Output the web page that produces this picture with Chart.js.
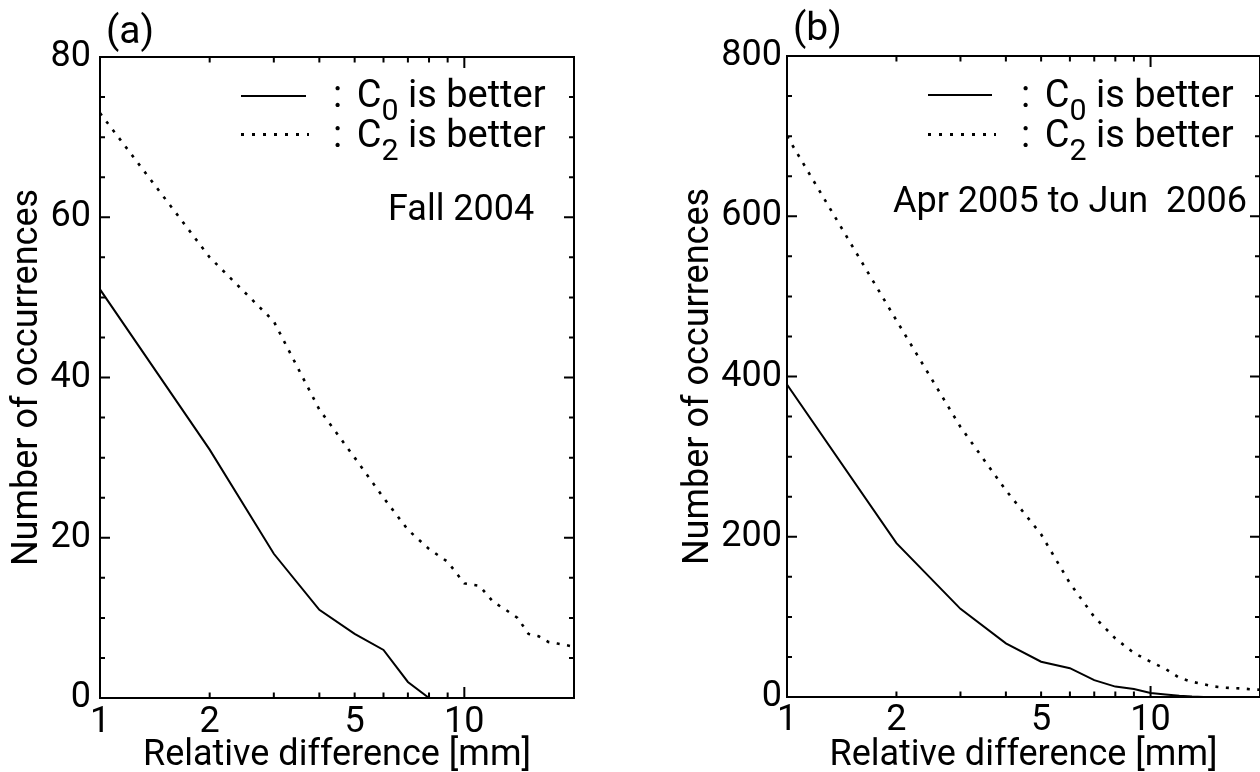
<!DOCTYPE html>
<html lang="en">
<head>
  <meta charset="UTF-8">
  <title>Number of occurrences vs relative difference</title>
  <script src="https://cdn.jsdelivr.net/npm/chart.js"></script>
  <style>
    body {
      margin: 0;
      width: 1260px;
      height: 772px;
      overflow: hidden;
      position: relative;
      background: #ffffff;
      color: #000000;
      font-family: Roboto, sans-serif;
    }
    .panel { position: absolute; top: 0; }
    .txt {
      position: absolute;
      font-size: 36px;
      line-height: 36px;
      white-space: pre;
    }
    .leg { font-size: 38px; }
    .leg .c { margin-left: 5px; }
    .txt sub { font-size: 0.8em; vertical-align: -0.42em; line-height: 0; }
    .big { font-size: 39px; }
    .solid { position: absolute; height: 2px; background: #000; }
    .dotted {
      position: absolute;
      height: 3px;
      background: repeating-linear-gradient(to right, #000 0 3px, transparent 3px 11px);
    }
  </style>
</head>
<body>
  <div class="panel" style="left:0"><canvas id="chartA" width="640" height="800"></canvas></div>
  <div class="panel" style="left:640px"><canvas id="chartB" width="660" height="800"></canvas></div>

  <!-- panel (a) labels -->
  <div class="txt big" style="left:106px;top:12px">(a)</div>
  <div class="solid" style="left:241px;top:95px;width:65px"></div>
  <div class="dotted" style="left:241px;top:133px;width:68px"></div>
  <div class="txt leg" style="left:333px;top:76px">:<span class="c"> C</span><sub>0</sub> is better</div>
  <div class="txt leg" style="left:333px;top:116px">:<span class="c"> C</span><sub>2</sub> is better</div>
  <div class="txt" style="left:388px;top:190px">Fall 2004</div>

  <!-- panel (b) labels -->
  <div class="txt big" style="left:793px;top:9px">(b)</div>
  <div class="solid" style="left:928px;top:94px;width:64px"></div>
  <div class="dotted" style="left:928px;top:133px;width:68px"></div>
  <div class="txt leg" style="left:1021px;top:76px">:<span class="c"> C</span><sub>0</sub> is better</div>
  <div class="txt leg" style="left:1021px;top:116px">:<span class="c"> C</span><sub>2</sub> is better</div>
  <div class="txt" style="left:893px;top:182px">Apr 2005 to Jun  2006</div>

  <script>
    // relative difference [mm], shared by both panels
    const diffMm = [1, 2, 3, 4, 5, 6, 7, 8, 9, 10, 11, 12, 13, 14, 15, 16, 17, 18, 19, 20];

    // (a) Fall 2004
    const fallC0 = [51, 31, 18, 11, 8, 6, 2, 0];
    const fallC2 = [73, 55, 47, 36, 30, 25, 21, 18.6, 17, 14.3, 14, 12, 11, 10, 8, 7.7, 7, 6.8, 6.6, 6.4];

    // (b) Apr 2005 to Jun 2006
    const aprC0 = [390, 192, 110, 67, 44, 36, 21, 13, 10, 5, 3, 1.5, 0.5, 0, 0, 0, 0, 0, 0, 0];
    const aprC2 = [700, 470, 337, 258, 203, 142, 100, 73, 55, 44, 35, 24, 19, 16, 13, 11.7, 11, 10.5, 9.5, 9];

    const xTickValues = [1, 2, 5, 10];
    const xMinorTicks = [2, 3, 4, 5, 6, 7, 8, 9];
    const xMajorTicks = [10];

    Chart.defaults.font.family = 'Roboto';
    Chart.defaults.font.size = 36;
    Chart.defaults.color = '#000';

    function toPoints(values) {
      return values.map((v, i) => ({ x: diffMm[i], y: v }));
    }

    // MATLAB style box with inward ticks on all four sides
    const boxTicks = {
      id: 'boxTicks',
      afterDatasetsDraw(chart, args, opts) {
        const { ctx, chartArea: a, scales: { x, y } } = chart;
        ctx.save();
        ctx.strokeStyle = '#000';
        ctx.lineWidth = 2;
        ctx.beginPath();
        const xTick = (v, len) => {
          const px = x.getPixelForValue(v);
          ctx.moveTo(px, a.bottom); ctx.lineTo(px, a.bottom - len);
          ctx.moveTo(px, a.top); ctx.lineTo(px, a.top + len);
        };
        const yTick = (v, len) => {
          const py = y.getPixelForValue(v);
          ctx.moveTo(a.left, py); ctx.lineTo(a.left + len, py);
          ctx.moveTo(a.right, py); ctx.lineTo(a.right - len, py);
        };
        xMinorTicks.forEach(v => xTick(v, 5.5));
        xMajorTicks.forEach(v => xTick(v, 11));
        for (let v = opts.yMinor; v < y.max; v += opts.yMinor) {
          yTick(v, v % opts.yMajor === 0 ? 10 : 5);
        }
        ctx.stroke();
        ctx.strokeRect(a.left, a.top, a.right - a.left, a.bottom - a.top);
        ctx.restore();
      }
    };

    function makePanel(id, c0, c2, cfg) {
      return new Chart(document.getElementById(id), {
        type: 'line',
        data: {
          datasets: [{
            label: 'C0 is better',
            data: toPoints(c0),
            borderColor: '#000',
            borderWidth: 2,
            pointRadius: 0,
            tension: 0
          }, {
            label: 'C2 is better',
            data: toPoints(c2),
            borderColor: '#000',
            borderWidth: 2.6,
            borderDash: [3, 7.5],
            pointRadius: 0,
            tension: 0
          }]
        },
        options: {
          responsive: false,
          animation: false,
          layout: { padding: { top: cfg.padTop, right: cfg.padRight, left: 0, bottom: 0 } },
          plugins: {
            legend: { display: false },
            tooltip: { enabled: false },
            boxTicks: { yMinor: cfg.yMinor, yMajor: cfg.yMajor }
          },
          scales: {
            x: {
              type: 'logarithmic',
              min: 1,
              max: 20,
              afterBuildTicks: s => { s.ticks = xTickValues.map(v => ({ value: v })); },
              afterFit: s => { s.height = cfg.xHeight; },
              grid: { display: false, drawTicks: false },
              border: { display: false },
              ticks: { autoSkip: false, maxRotation: 0, padding: cfg.xTickPad, callback: v => String(v) },
              title: { display: true, text: 'Relative difference [mm]', padding: 22 }
            },
            y: {
              min: 0,
              max: cfg.yMax,
              afterFit: s => { s.width = cfg.yWidth; },
              grid: { display: false, drawTicks: false },
              border: { display: false },
              ticks: { stepSize: cfg.yMajor, padding: cfg.yTickPad },
              title: { display: true, text: 'Number of occurrences', padding: cfg.yTitlePad }
            }
          }
        },
        plugins: [boxTicks]
      });
    }

    makePanel('chartA', fallC0, fallC2, {
      yMax: 80, yMajor: 20, yMinor: 5,
      padTop: 57, padRight: 66, yWidth: 100, xHeight: 102,
      xTickPad: 3, yTickPad: 9, yTitlePad: 6
    });

    makePanel('chartB', aprC0, aprC2, {
      yMax: 800, yMajor: 200, yMinor: 50,
      padTop: 56, padRight: 40, yWidth: 147, xHeight: 103,
      xTickPad: 2, yTickPad: 5, yTitlePad: 37
    });
  </script>
</body>
</html>
